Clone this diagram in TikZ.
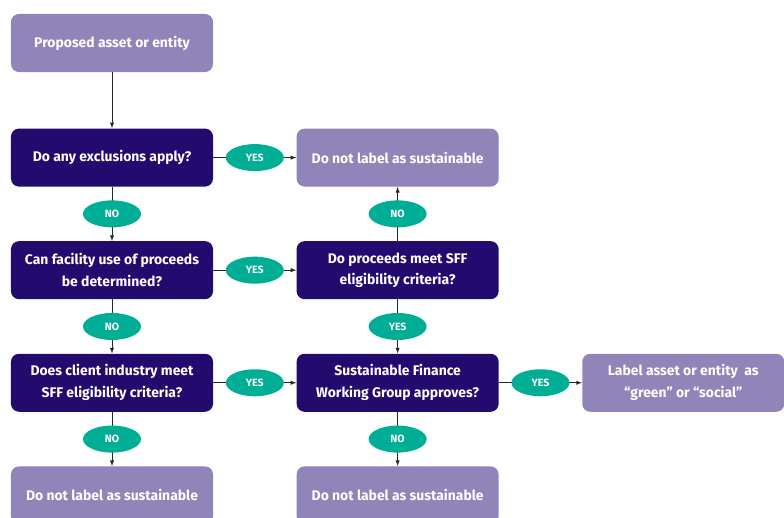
\documentclass[tikz,border=0pt]{standalone}
\usepackage{fontspec}
\setmainfont{Fira Sans}
\usepackage{xcolor}
\usepackage{tikz}
\usetikzlibrary{shapes.geometric, arrows, positioning}
\definecolor{sff-lilac}{HTML}{9184B8}
\definecolor{sff-navy}{HTML}{230A6E}
\definecolor{sff-teal}{HTML}{00AE96}

\begin{document}
\begin{tikzpicture}[
    x=0.025cm, y=-0.025cm,
    node distance=1.35cm and 2.075cm,
    outcome/.style={fill=sff-lilac, text=white, font=\bfseries\fontsize{9.9}{15.5}\selectfont, align=center, minimum width=5.05cm, minimum height=1.45cm, rounded corners=0.2cm},
    question/.style={outcome, fill=sff-navy},
    yes/.style={ellipse, fill=sff-teal, text=white, font=\bfseries\fontsize{7.5}{8}\selectfont, minimum width=1.45cm, minimum height=0.675cm, inner sep=0pt},
    flow/.style={->, >=latex, thin, black!85}
]
    \useasboundingbox (0,0) rectangle (784,518);
    \node (start) [outcome] at (112,43) {Proposed asset or entity};
    \node (excl) [question, below=1.4cm of start] {Do any exclusions apply?};
    \node (stop1) [outcome, right=of excl] {Do not label as sustainable};
    \node (facil) [question, below=of excl] {Can facility use of proceeds\\be determined?};
    \node (procd) [question, right=of facil] {Do proceeds meet SFF\\eligibility criteria?};
    \node (indus) [question, below=of facil] {Does client industry meet\\SFF eligibility criteria?};
    \node (sfwg) [question, right=of indus] {Sustainable Finance\\Working Group approves?};
    \node (label) [outcome, right=of sfwg] {Label asset or entity\ \ as\\``green'' or ``social''};
    \node (stop2) [outcome, below=of indus] {Do not label as sustainable};
    \node (stop3) [outcome, below=of sfwg] {Do not label as sustainable};

    \draw [flow] (start) -- (excl);
    \draw [flow] (excl) -- node [yes] {YES} (stop1);
    \draw [flow] (excl) -- node [yes] {NO} (facil);
    \draw [flow] (facil) -- node [yes] {YES} (procd);
    \draw [flow] (procd) -- node [yes] {NO} (stop1);
    \draw [flow] (facil) -- node [yes] {NO} (indus);
    \draw [flow] (procd) -- node [yes] {YES} (sfwg);
    \draw [flow] (indus) -- node [yes] {YES} (sfwg);
    \draw [flow] (sfwg) -- node [yes] {YES} (label);
    \draw [flow] (indus) -- node [yes] {NO} (stop2);
    \draw [flow] (sfwg) -- node [yes] {NO} (stop3);
\end{tikzpicture}
\end{document}
